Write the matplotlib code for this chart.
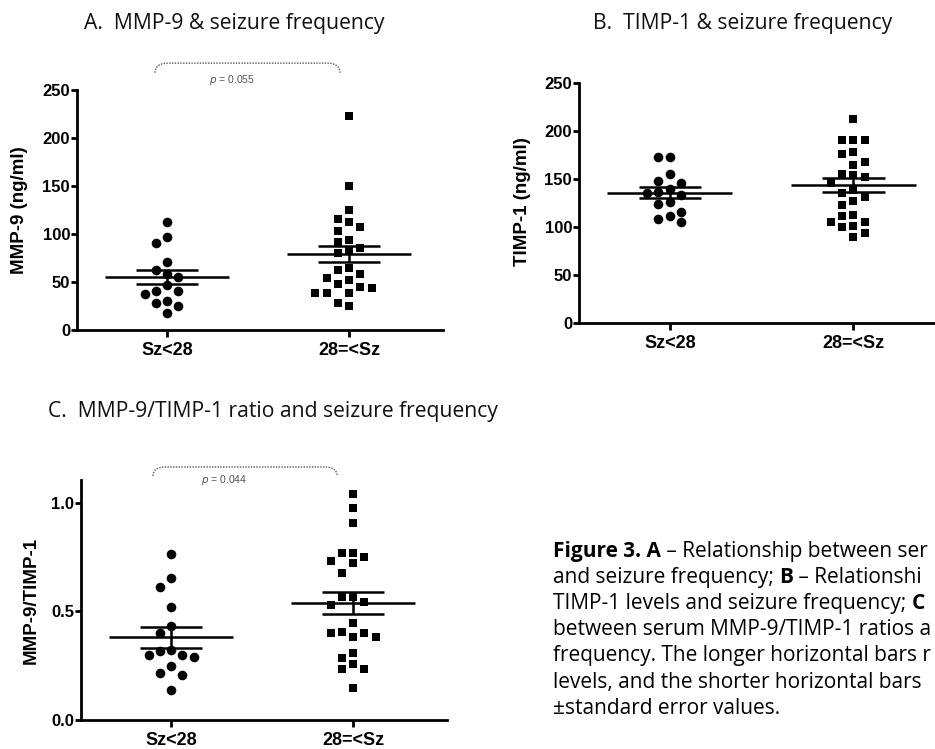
import matplotlib
matplotlib.use("Agg")
import matplotlib.pyplot as plt
import numpy as np
from matplotlib.path import Path
from matplotlib.patches import PathPatch

groups = ["Sz<28", "28=<Sz"]

# A. MMP-9 (ng/ml)
mmp9_low = [112.8, 96.5, 90.3, 70.5, 62.5, 58.3, 54.9, 46.9, 41.0, 41.0,
            37.5, 29.9, 28.5, 25.0, 18.0]
mmp9_high = [222.9, 149.5, 125.0, 115.3, 112.8, 107.6, 103.0, 93.8, 92.0,
             85.0, 83.3, 80.0, 64.2, 62.5, 58.3, 53.8, 52.0, 47.9, 44.4,
             43.4, 38.9, 38.9, 38.2, 28.5, 25.0]
mmp9_mean = [54.9, 79.2]
mmp9_sem = [7.5, 8.7]

# B. TIMP-1 (ng/ml)
timp1_low = [172.7, 172.7, 155.3, 148.0, 145.5, 140.0, 136.8, 135.1, 133.3,
             126.3, 124.0, 116.0, 111.7, 108.0, 105.5]
timp1_high = [212.4, 190.8, 190.8, 190.8, 178.6, 176.2, 168.2, 164.7, 155.3,
              154.2, 151.8, 146.2, 138.6, 135.8, 130.9, 127.1, 122.9, 112.5,
              111.4, 105.5, 105.5, 101.0, 100.3, 93.3, 89.1]
timp1_mean = [135.7, 143.8]
timp1_sem = [5.9, 7.3]

# C. MMP-9/TIMP-1 ratio
ratio_low = [0.762, 0.652, 0.610, 0.518, 0.433, 0.399, 0.322, 0.319, 0.299,
             0.299, 0.291, 0.248, 0.218, 0.207, 0.138]
ratio_high = [1.040, 0.974, 0.905, 0.770, 0.767, 0.748, 0.733, 0.721, 0.678,
              0.567, 0.564, 0.544, 0.529, 0.445, 0.406, 0.399, 0.399, 0.383,
              0.383, 0.307, 0.284, 0.258, 0.233, 0.233, 0.146]
ratio_mean = [0.380, 0.537]
ratio_sem = [0.050, 0.050]

p_values = ["0.055", "0.044"]

# caption as it shows in the (cropped) picture
caption = [
    [("Figure 3. A", True), (" \u2013 Relationship between ser", False)],
    [("and seizure frequency; ", False), ("B", True), (" \u2013 Relationshi", False)],
    [("TIMP-1 levels and seizure frequency; ", False), ("C", True)],
    [("between serum MMP-9/TIMP-1 ratios a", False)],
    [("frequency. The longer horizontal bars r", False)],
    [("levels, and the shorter horizontal bars", False)],
    [("\u00b1standard error values.", False)],
]

W, H = 935, 749
TICK_FONT = "Liberation Sans"
TITLE_FONT = "Open Sans"
CAPTION_FONT = "Open Sans"

fig = plt.figure(figsize=(W / 100, H / 100), dpi=100)


def px_axes(left, right, bottom, top):
    return fig.add_axes([left / W, 1 - bottom / H, (right - left) / W, (bottom - top) / H])


def swarm_offsets(values, px_per_unit, min_gap=10.0):
    # greedy column layout: a point moves sideways only if it would overlap
    values = np.asarray(values, dtype=float)
    placed = {}
    cols = np.zeros(len(values))
    for i in np.argsort(-values, kind="stable"):
        y = values[i] * px_per_unit
        k = 0
        done = False
        while not done:
            for c in ([0] if k == 0 else [-k, k]):
                if all(abs(y - o) >= min_gap for o in placed.get(c, [])):
                    placed.setdefault(c, []).append(y)
                    cols[i] = c
                    done = True
                    break
            k += 1
    return cols


def panel(ax, low, high, mean, sem, ymax, ticks, ticklabels, ylabel, label_xy):
    ax.set_xlim(-0.495, 1.516)
    ax.set_ylim(0, ymax)
    bbox = ax.get_position()
    px_per_unit = bbox.height * H / ymax
    step = 0.062
    for i, (vals, marker, size) in enumerate([(low, "o", 48), (high, "s", 36)]):
        cols = swarm_offsets(vals, px_per_unit)
        ax.scatter(i + cols * step, vals, marker=marker, s=size, color="black",
                   linewidths=0, zorder=3, clip_on=False)
    for i, (m, s) in enumerate(zip(mean, sem)):
        ax.hlines(m, i - 0.34, i + 0.34, color="black", lw=1.8, zorder=4)
        ax.hlines([m - s, m + s], i - 0.17, i + 0.17, color="black", lw=1.8, zorder=4)
        ax.vlines(i, m - s, m + s, color="black", lw=1.8, zorder=4)

    for side in ["top", "right"]:
        ax.spines[side].set_visible(False)
    for side in ["left", "bottom"]:
        ax.spines[side].set_linewidth(2.0)
    ax.set_xticks([0, 1])
    ax.set_xticklabels(groups, fontsize=13, fontweight="bold", family=TICK_FONT)
    ax.set_yticks(ticks)
    ax.set_yticklabels(ticklabels, fontsize=12, fontweight="bold", family=TICK_FONT)
    ax.tick_params(axis="y", length=4, width=2, pad=1)
    ax.tick_params(axis="x", length=5, width=2, pad=3.5)
    ax.set_ylabel(ylabel, fontsize=13.5, fontweight="bold", family=TICK_FONT)
    ax.yaxis.set_label_coords(*label_xy)


def bracket(ax, x0, x1, y_top, drop, text, text_x, text_y):
    r = 0.07
    verts = [(x0, y_top - drop), (x0, y_top), (x0 + r, y_top),
             (x1 - r, y_top), (x1, y_top), (x1, y_top - drop)]
    codes = [Path.MOVETO, Path.CURVE3, Path.CURVE3,
             Path.LINETO, Path.CURVE3, Path.CURVE3]
    patch = PathPatch(Path(verts, codes), facecolor="none", edgecolor="#555555",
                      lw=1.0, ls=(0, (1, 1)), clip_on=False)
    ax.add_patch(patch)
    ax.text(text_x, text_y, r"$p$ = " + text, fontsize=7.5, color="#555555",
            ha="center", va="center", family=TICK_FONT)


ax_a = px_axes(77, 443, 330, 90)
panel(ax_a, mmp9_low, mmp9_high, mmp9_mean, mmp9_sem, 250,
      [0, 50, 100, 150, 200, 250], ["0", "50", "100", "150", "200", "250"],
      "MMP-9 (ng/ml)", (-0.134, 0.5))
bracket(ax_a, -0.066, 0.95, 278, 10, p_values[0], 0.357, 260)

ax_b = px_axes(579, 948, 322.7, 83.3)
panel(ax_b, timp1_low, timp1_high, timp1_mean, timp1_sem, 250,
      [0, 50, 100, 150, 200, 250], ["0", "50", "100", "150", "200", "250"],
      "TIMP-1 (ng/ml)", (-0.130, 0.505))

ax_c = px_axes(81, 447, 720, 480)
panel(ax_c, ratio_low, ratio_high, ratio_mean, ratio_sem, 1.104,
      [0.0, 0.5, 1.0], ["0.0", "0.5", "1.0"],
      "MMP-9/TIMP-1", (-0.112, 0.497))
bracket(ax_c, -0.10, 0.913, 1.164, 0.041, p_values[1], 0.29, 1.104)

title_style = dict(fontsize=15.2, family=TITLE_FONT, color="#111111", va="baseline")
fig.text(84 / W, 1 - 29 / H, "A.  MMP-9 & seizure frequency", **title_style)
fig.text(593 / W, 1 - 29 / H, "B.  TIMP-1 & seizure frequency", **title_style)
fig.text(48 / W, 1 - 416.7 / H, "C.  MMP-9/TIMP-1 ratio and seizure frequency", **title_style)

# caption, pieces chained so bold and regular runs sit on one line
x0, y0, line_h = 553, 556.7, 26.2
for n, line in enumerate(caption):
    prev = None
    for piece, bold in line:
        kw = dict(fontsize=15, family=CAPTION_FONT, color="black",
                  fontweight="bold" if bold else "normal",
                  annotation_clip=False)
        if prev is None:
            prev = ax_c.annotate(piece, xy=(x0, H - (y0 + n * line_h)),
                                 xycoords="figure pixels", va="baseline", **kw)
        else:
            prev = ax_c.annotate(piece, xy=(1, 0), xycoords=prev, va="bottom", **kw)

fig.savefig("out.png", dpi=100)
